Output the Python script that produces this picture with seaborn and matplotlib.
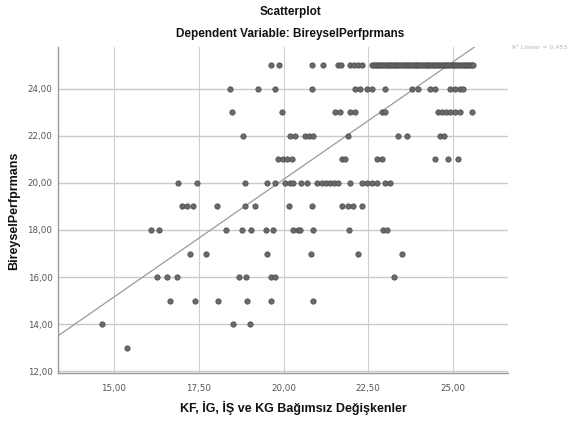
import matplotlib
matplotlib.use("Agg")
import matplotlib.pyplot as plt
from matplotlib import font_manager
import seaborn as sns
import pandas as pd
import numpy as np

# ---- data ----
row25_x = [19.63, 19.87, 20.84, 21.17, 21.61, 21.70, 21.96, 22.08, 22.20, 22.32,
           22.62, 22.67, 22.72, 22.78, 22.83, 22.88, 22.94, 22.99, 23.04, 23.10,
           23.15, 23.20, 23.26, 23.31, 23.36, 23.42, 23.47, 23.52, 23.58, 23.63,
           23.68, 23.74, 23.79, 23.84, 23.90, 23.95, 24.00, 24.06, 24.11, 24.16,
           24.22, 24.27, 24.32, 24.38, 24.43, 24.48, 24.54, 24.59, 24.64, 24.70,
           24.75, 24.80, 24.86, 24.91, 24.96, 25.02, 25.07, 25.12, 25.18, 25.23,
           25.28, 25.34, 25.39, 25.44, 25.50, 25.55, 25.60]
row24_x = [18.42, 19.25, 19.75, 20.84, 22.11, 22.26, 22.46, 22.61, 23.00, 23.79,
           23.97, 24.32, 24.47, 24.91, 25.06, 25.21, 25.30]
row23_x = [18.48, 19.96, 21.52, 21.67, 21.96, 22.11, 22.90, 23.00, 24.56, 24.68,
           24.80, 24.91, 25.06, 25.21, 25.56]
row22_x = [18.80, 20.19, 20.34, 20.63, 20.75, 20.87, 21.90, 23.38, 23.64, 24.62, 24.73]
row21_x = [19.84, 19.99, 20.10, 20.25, 21.73, 21.81, 22.76, 22.90, 24.47, 24.85, 25.15]
row20_x = [16.89, 17.45, 18.86, 19.51, 19.75, 20.04, 20.19, 20.28, 20.52, 20.69,
           20.99, 21.14, 21.25, 21.37, 21.49, 21.61, 21.96, 22.32, 22.46, 22.61,
           22.76, 22.99, 23.14]
row19_x = [17.00, 17.15, 17.33, 18.04, 18.86, 19.16, 20.16, 20.84, 21.73, 21.90,
           22.05, 22.32]
row18_x = [16.09, 16.33, 18.30, 18.78, 19.04, 19.48, 19.69, 20.28, 20.43, 20.49,
           20.87, 21.93, 22.94, 23.05]
row17_x = [17.24, 17.71, 19.51, 20.81, 22.20, 23.50]
row16_x = [16.27, 16.56, 16.86, 18.69, 18.89, 19.63, 19.75, 23.26]
row15_x = [16.65, 17.39, 18.07, 18.92, 19.63, 20.87]
row14_x = [14.65, 18.51, 19.01]
row13_x = [15.38]

rows = {25: row25_x, 24: row24_x, 23: row23_x, 22: row22_x, 21: row21_x,
        20: row20_x, 19: row19_x, 18: row18_x, 17: row17_x, 16: row16_x,
        15: row15_x, 14: row14_x, 13: row13_x}

fit_intercept = 0.15
fit_slope = 1.0
r2_text = "R² Linear = 0,453"

x_ticks = [15.0, 17.5, 20.0, 22.5, 25.0]
x_tick_labels = ["15,00", "17,50", "20,00", "22,50", "25,00"]
y_ticks = [12, 14, 16, 18, 20, 22, 24]
y_tick_labels = ["12,00", "14,00", "16,00", "18,00", "20,00", "22,00", "24,00"]

title1 = "Scatterplot"
title2 = "Dependent Variable: BireyselPerfprmans"
x_label = "KF, İG, İŞ ve KG Bağımsız Değişkenler"
y_label = "BireyselPerfprmans"

# ---- build frame ----
xs, ys = [], []
for yv, xl in rows.items():
    xs.extend(xl)
    ys.extend([yv] * len(xl))
df = pd.DataFrame({"pred": xs, "perf": ys})

sns.set_theme(style="white")
names = {f.name for f in font_manager.fontManager.ttflist}
bold_font = "Liberation Sans Narrow" if "Liberation Sans Narrow" in names else "Liberation Sans"
plt.rcParams["font.family"] = ["DejaVu Sans"]

fig = plt.figure(figsize=(5.82, 4.25), dpi=100)
ax = fig.add_axes([58 / 582, 1 - 373 / 425, 450 / 582, 326 / 425])

xlim = (13.35, 26.62)
ylim = (11.92, 25.78)

# grid
for yt in y_ticks:
    ax.axhline(yt, color="#c9c9c9", lw=1.0, zorder=0)
for xt in x_ticks:
    ax.axvline(xt, color="#cfcfcf", lw=0.8, zorder=0)

# fit line
line_x = np.array(xlim)
line_df = pd.DataFrame({"x": line_x, "y": fit_intercept + fit_slope * line_x})
sns.lineplot(data=line_df, x="x", y="y", ax=ax, color="#9a9a9a", lw=0.9, zorder=2)

sns.scatterplot(data=df, x="pred", y="perf", ax=ax, s=15, color="#6a6a6a",
                edgecolor="#4a4a4a", linewidth=0.5, zorder=3)

ax.set_xlim(*xlim)
ax.set_ylim(*ylim)
ax.set_xticks(x_ticks)
ax.set_xticklabels(x_tick_labels)
ax.set_yticks(y_ticks)
ax.set_yticklabels(y_tick_labels)
ax.tick_params(axis="both", labelsize=6.3, colors="#555555", length=2.5,
               width=0.6, direction="out", pad=1.5)
ax.tick_params(axis="x", length=0, pad=8)
for s in ["top", "right"]:
    ax.spines[s].set_visible(False)
for s in ["left", "bottom"]:
    ax.spines[s].set_color("#9a9a9a")
    ax.spines[s].set_linewidth(1.0)
ax.set_xlabel("")
ax.set_ylabel("")

fig.text(290 / 582, 1 - 12 / 425, title1, ha="center", va="center",
         fontsize=8.5, fontweight="bold", family=bold_font, color="#111111")
fig.text(290 / 582, 1 - 34 / 425, title2, ha="center", va="center",
         fontsize=8.5, fontweight="bold", family=bold_font, color="#111111")
fig.text(293 / 582, 1 - 408 / 425, x_label, ha="center", va="center",
         fontsize=9, fontweight="bold", family=bold_font, color="#111111")
fig.text(14 / 582, 1 - 211 / 425, y_label, ha="center", va="center",
         rotation=90, fontsize=9, fontweight="bold", family=bold_font,
         color="#111111")
fig.text(512 / 582, 1 - 47 / 425, r2_text, ha="left", va="center",
         fontsize=4.5, color="#b5b5b5")

fig.savefig("out.png", dpi=100)
